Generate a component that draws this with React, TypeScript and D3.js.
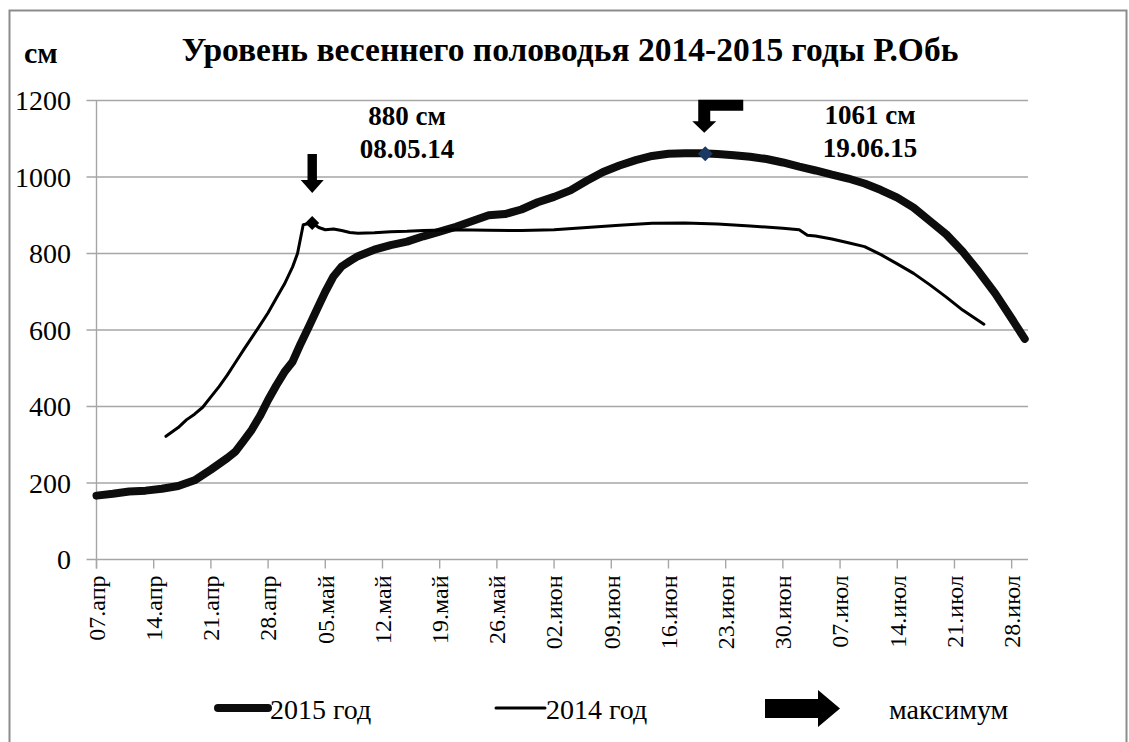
import React from "react";
import * as d3 from "d3";

// axis: day offsets from 07.апр, one tick per week
const tickLabels = [
  "07.апр", "14.апр", "21.апр", "28.апр", "05.май", "12.май", "19.май", "26.май",
  "02.июн", "09.июн", "16.июн", "23.июн", "30.июн", "07.июл", "14.июл", "21.июл", "28.июл",
];
const yTicks = [0, 200, 400, 600, 800, 1000, 1200];

// 2015 год (days on the axis, level in cm)
const days2015 = [
  0, 2, 4, 6, 8, 10, 12, 14, 16, 17, 18, 19, 20, 21, 22, 23, 24, 25, 26, 27, 28, 29, 30, 31, 32,
  34, 36, 38, 40, 42, 44, 46, 48, 50, 52, 54, 56, 58, 60, 62, 64, 66, 68, 70, 72, 74, 76, 78, 80,
  82, 84, 86, 88, 90, 92, 94, 96, 98, 100, 102, 104, 106, 108, 110, 112, 113.6,
];
const level2015 = [
  167, 172, 178, 180, 185, 192, 207, 235, 265, 282, 310, 339, 375, 417, 455, 490, 517, 565, 609,
  655, 700, 740, 766, 780, 793, 810, 822, 831, 845, 857, 870, 885, 900, 903, 915, 934, 948, 965,
  990, 1013, 1030, 1044, 1055, 1061, 1062, 1062, 1060, 1057, 1053, 1047, 1038, 1027, 1017, 1006,
  996, 983, 966, 946, 920, 885, 850, 805, 752, 695, 630, 577,
];

// 2014 год
const days2014 = [
  8.5, 10, 11, 12, 13, 14, 15, 16, 17, 18, 19, 20, 21, 22, 23, 24, 24.6, 25.3, 26.4, 27.2, 28, 29,
  30, 31, 32, 34, 36, 38, 40, 44, 48, 52, 56, 60, 64, 68, 72, 76, 80, 84, 86, 87, 88, 90, 92, 94,
  96, 98, 100, 102, 104, 106, 108.6,
];
const level2014 = [
  322, 345, 365, 380, 398, 425, 452, 482, 515, 548, 580, 612, 645, 683, 720, 765, 800, 875, 880,
  868, 862, 864, 860, 855, 853, 854, 857, 858, 860, 862, 861, 860, 862, 868, 874, 879, 880, 877,
  872, 866, 862, 848, 846, 838, 828, 818, 797, 773, 748, 718, 686, 652, 615,
];

// maxima: [day, level]
const max2014 = [26.4, 880];
const max2015 = [74.5, 1061];
const maxLabels2014 = ["880 см", "08.05.14"];
const maxLabels2015 = ["1061 см", "19.06.15"];

const legendNames = ["2015 год", "2014 год", "максимум"];

const FONT = "Liberation Serif";

const width = 1129,
  height = 742;
const x = d3.scaleLinear().domain([0, 114]).range([96.5, 1028]);
const y = d3.scaleLinear().domain([0, 1200]).range([559.5, 100.5]);
const tickDays = tickLabels.map((_, i) => i * 7);

const seriesPath = (days: number[], levels: number[]) =>
  d3
    .line<number>()
    .x((d) => x(d))
    .y((_, i) => y(levels[i]))(days) || "";

const diamond = (r: number) => `M0,${-r}L${r},0L0,${r}L${-r},0Z`;

// regular text is set at 30px and scaled down to the wanted size
const Txt = (p: { x: number; y: number; size: number; rotate?: number; anchor?: string; dy?: string; children: any }) => (
  <text
    transform={`translate(${p.x},${p.y}) rotate(${p.rotate || 0}) scale(${p.size / 30})`}
    fontSize={30}
    dy={p.dy}
    textAnchor={p.anchor || "start"}
    style={{ fontFamily: FONT }}
  >
    {p.children}
  </text>
);

const App = () => {
  const a14x = x(max2014[0]),
    a14y = y(max2014[1]) - 30;
  const a15x = x(max2015[0]) - 1,
    a15y = y(max2015[1]) - 21;
  const arrow14 = `M${a14x - 4.7},${a14y - 39}H${a14x + 4.7}V${a14y - 13}H${a14x + 11.5}L${a14x},${a14y}L${
    a14x - 11.5
  },${a14y - 13}H${a14x - 4.7}Z`;
  const arrow15 = `M${a15x - 6},${a15y - 33}H${a15x + 39}V${a15y - 22}H${a15x + 6}V${a15y - 11.5}H${
    a15x + 12
  }L${a15x},${a15y}L${a15x - 12},${a15y - 11.5}H${a15x - 6}Z`;

  return (
    <div style={{ position: "absolute", left: 0, top: 0 }}>
      <svg width={width} height={height} style={{ display: "block" }}>
        <rect width={width} height={height} fill="#fff" />
        <rect x={9.5} y={10.5} width={1117} height={745} fill="none" stroke="#8c8c8c" strokeWidth={2} />

        <text x={570} y={61} textAnchor="middle" fontWeight="bold" fontSize={33.5} style={{ fontFamily: FONT }}>
          Уровень весеннего половодья 2014-2015 годы Р.Обь
        </text>
        <text x={24} y={63} fontWeight="bold" fontSize={30} style={{ fontFamily: FONT }}>
          см
        </text>

        {yTicks.map((t) => (
          <line key={"g" + t} x1={86.5} x2={x(114)} y1={y(t)} y2={y(t)} stroke="#a6a6a6" strokeWidth={1.4} />
        ))}
        <line x1={x(0)} x2={x(0)} y1={y(1200)} y2={y(0) + 9} stroke="#a6a6a6" strokeWidth={1.4} />
        {tickDays.map((d) => (
          <line key={"t" + d} x1={x(d)} x2={x(d)} y1={y(0)} y2={y(0) + 9} stroke="#a6a6a6" strokeWidth={1.4} />
        ))}

        {yTicks.map((t) => (
          <Txt key={"y" + t} x={71} y={y(t)} size={28} dy="0.35em" anchor="end">
            {t}
          </Txt>
        ))}
        {tickLabels.map((l, i) => (
          <Txt key={l} x={x(tickDays[i])} y={y(0) + 16} rotate={-90} size={24} dy="0.35em" anchor="end">
            {l}
          </Txt>
        ))}

        <path
          d={seriesPath(days2015, level2015)}
          fill="none"
          stroke="#0d0d0d"
          strokeWidth={8}
          strokeLinejoin="round"
          strokeLinecap="round"
        />
        <path
          d={seriesPath(days2014, level2014)}
          fill="none"
          stroke="#000"
          strokeWidth={3}
          strokeLinejoin="round"
          strokeLinecap="round"
        />

        <path d={diamond(7)} transform={`translate(${x(max2014[0])},${y(max2014[1])})`} fill="#000" />
        <path d={diamond(7.5)} transform={`translate(${x(max2015[0])},${y(max2015[1])})`} fill="#1b3a63" />
        <path d={arrow14} fill="#000" />
        <path d={arrow15} fill="#000" />

        {maxLabels2014.map((t, i) => (
          <text key={t} x={407} y={125 + i * 33} textAnchor="middle" fontWeight="bold" fontSize={27} style={{ fontFamily: FONT }}>
            {t}
          </text>
        ))}
        {maxLabels2015.map((t, i) => (
          <text key={t} x={870} y={124 + i * 33} textAnchor="middle" fontWeight="bold" fontSize={27} style={{ fontFamily: FONT }}>
            {t}
          </text>
        ))}

        {/* legend */}
        <line x1={218} x2={268} y1={708} y2={708} stroke="#0d0d0d" strokeWidth={8} strokeLinecap="round" />
        <Txt x={270} y={719} size={28}>
          {legendNames[0]}
        </Txt>
        <line x1={496} x2={545} y1={708} y2={708} stroke="#000" strokeWidth={3} strokeLinecap="round" />
        <Txt x={546} y={719} size={28}>
          {legendNames[1]}
        </Txt>
        <path d="M765,699H818V690L840,708.5L818,727V718H765Z" fill="#000" />
        <Txt x={889} y={719} size={28}>
          {legendNames[2]}
        </Txt>
      </svg>
    </div>
  );
};

export default App;
